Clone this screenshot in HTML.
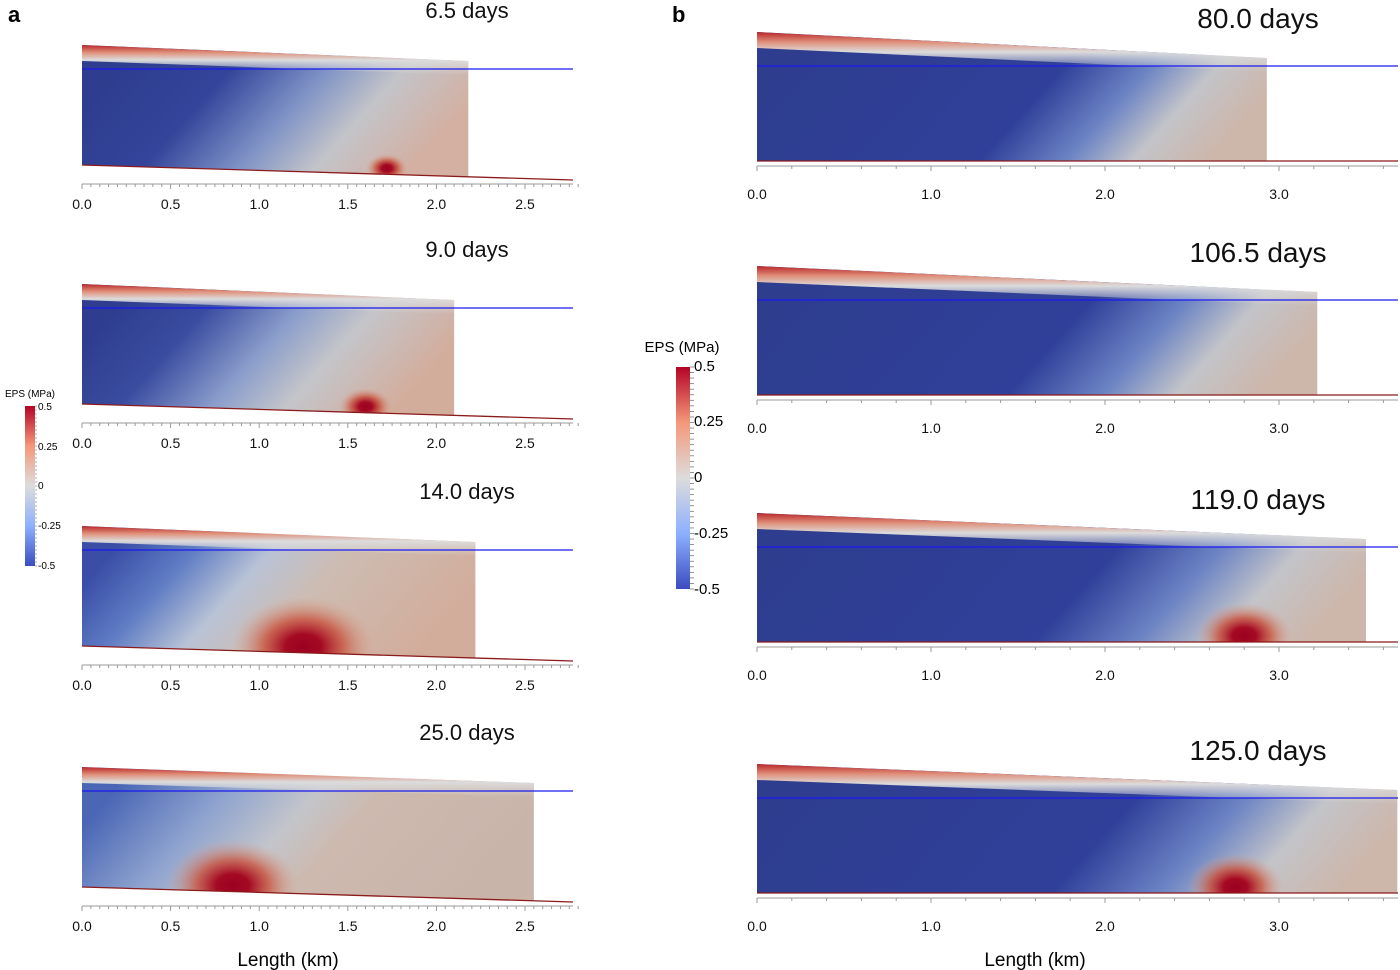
<!DOCTYPE html>
<html><head><meta charset="utf-8">
<style>
html,body{margin:0;padding:0;background:#fff;}
svg{display:block;font-family:"Liberation Sans",sans-serif;}
</style></head>
<body>
<svg id="fig" width="1400" height="970" viewBox="0 0 1400 970" xmlns="http://www.w3.org/2000/svg">
<defs>
<linearGradient id="cbar" x1="0" y1="1" x2="0" y2="0">
<stop offset="0" stop-color="#3b4cc0"/><stop offset="0.25" stop-color="#8db0fe"/><stop offset="0.5" stop-color="#dddcdc"/><stop offset="0.75" stop-color="#f4987a"/><stop offset="1" stop-color="#b40426"/>
</linearGradient>
<radialGradient id="blob">
<stop offset="0" stop-color="#9b0020"/><stop offset="0.25" stop-color="#a50a24"/><stop offset="0.55" stop-color="#c8533e" stop-opacity="0.8"/><stop offset="1" stop-color="#d9a690" stop-opacity="0"/>
</radialGradient>
<linearGradient id="topband" x1="0" y1="0" x2="0" y2="1">
<stop offset="0" stop-color="#b8262a"/><stop offset="0.25" stop-color="#e0907a"/><stop offset="0.5" stop-color="#dcdcdc"/><stop offset="1" stop-color="#dcdcdc" stop-opacity="0"/>
</linearGradient>
</defs>
<g id="panels"></g>
<text x="8" y="22" font-size="22" font-weight="bold">a</text>
<text x="672" y="22" font-size="22" font-weight="bold">b</text>
<text x="288" y="966" font-size="19" text-anchor="middle">Length (km)</text>
<text x="1035" y="966" font-size="19" text-anchor="middle">Length (km)</text>
<g>
<rect x="25" y="406" width="10" height="160" fill="url(#cbar)"/>
<text x="30" y="397" font-size="10" text-anchor="middle">EPS (MPa)</text>
<text x="38" y="410" font-size="10">0.5</text>
<text x="38" y="450" font-size="10">0.25</text>
<text x="38" y="489" font-size="10">0</text>
<text x="38" y="529" font-size="10">-0.25</text>
<text x="38" y="569" font-size="10">-0.5</text>
</g>
<g>
<rect x="676" y="367" width="14" height="222" fill="url(#cbar)"/>
<text x="682" y="352" font-size="15" text-anchor="middle">EPS (MPa)</text>
<text x="694" y="371" font-size="15">0.5</text>
<text x="694" y="426" font-size="15">0.25</text>
<text x="694" y="482" font-size="15">0</text>
<text x="694" y="538" font-size="15">-0.25</text>
<text x="694" y="594" font-size="15">-0.5</text>
</g>
<g id="cbticks"></g>
</svg>
<script>
// data
const daysA = ["6.5 days","9.0 days","14.0 days","25.0 days"];
const frontA = [2.18, 2.10, 2.22, 2.55];
const blobA = [1.72, 1.60, 1.25, 0.85];
const blobSizeA = [0.35, 0.45, 1.2, 1.1];
const ticksA = ["0.0","0.5","1.0","1.5","2.0","2.5"];
const daysB = ["80.0 days","106.5 days","119.0 days","125.0 days"];
const frontB = [2.93, 3.22, 3.50, 3.68];
const blobB = [null, null, 2.80, 2.75];
const blobSizeB = [0, 0, 0.8, 0.8];
const ticksB = ["0.0","1.0","2.0","3.0"];

const NS="http://www.w3.org/2000/svg";
const root=document.getElementById('panels');
function mk(tag,attrs,parent){const e=document.createElementNS(NS,tag);for(const k in attrs)e.setAttribute(k,attrs[k]);(parent||root).appendChild(e);return e;}

const styleA=[
 [[0,'#2e3d8e'],[0.3,'#33449a'],[0.55,'#7e92c6'],[0.75,'#c3c4c9'],[1,'#d3b0a2']],
 [[0,'#2e3d8e'],[0.25,'#3a4ca0'],[0.5,'#8a9dcb'],[0.7,'#c4c5ca'],[1,'#d3ad9c']],
 [[0,'#3a4ea6'],[0.2,'#5f7cc4'],[0.4,'#b9c3d6'],[0.6,'#cdbcb2'],[1,'#d2ad9c']],
 [[0,'#4a66b5'],[0.25,'#8ea3cf'],[0.45,'#c3c5cb'],[0.6,'#cdb9ae'],[1,'#c9b4aa']]];
const styleB=[[0,'#2e3d8e'],[0.55,'#30409a'],[0.72,'#6c84c4'],[0.85,'#c3c4c9'],[1,'#cdb6aa']];

const colA={x0:82,pxkm:177.2,xmax:573,top0:45,water:69,bot0:165,botDrop:15,axisY:184,labY:209,titleY:18,titleX:467,tsize:22,lsize:14,minor:0.05,major:0.5,offs:[0,239,481,722],span:2.8};
const colB={x0:757,pxkm:174,xmax:1398,top0:32,water:66,bot0:161,botDrop:0,axisY:166,labY:199,titleY:28,titleX:1258,tsize:28,lsize:14,minor:0.2,major:1.0,offs:[0,234,481,732],span:3.68};

function panel(c,i,day,front,blobKm,bsz,ticks,pid,stops){
  const g=mk('g',{});
  const dy=c.offs[i];
  const X=km=>c.x0+km*c.pxkm;
  const xf=X(front);
  const topL=c.top0+dy, topR=c.water+dy-8;
  const botAt=km=>c.bot0+dy+c.botDrop*(km/2.77);
  const gid='body'+pid;
  const L=xf-c.x0, k=0.9, a=1/(1+k*k);
  const ym=(topL+botAt(0))/2;
  const gr=mk('linearGradient',{id:gid,gradientUnits:'userSpaceOnUse',x1:c.x0,y1:ym,x2:c.x0+L*a,y2:ym+L*a*k},g);
  stops.forEach(s=>mk('stop',{offset:s[0],'stop-color':s[1]},gr));
  const poly=`${c.x0},${topL} ${xf},${topR} ${xf},${botAt(front)} ${c.x0},${botAt(0)}`;
  const cp=mk('clipPath',{id:'cp'+pid},g); mk('polygon',{points:poly},cp);
  mk('polygon',{points:poly,fill:'url(#'+gid+')',},g);
  const cg=mk('g',{'clip-path':'url(#cp'+pid+')'},g);
  mk('polygon',{points:`${c.x0},${topL} ${xf},${topR} ${xf},${topR+14} ${c.x0},${topL+16}`,fill:'url(#topband)',},cg);
  if(blobKm!==null){
    const e=mk('ellipse',{cx:X(blobKm),cy:botAt(blobKm)-6,rx:60*bsz,ry:42*bsz,fill:'url(#blob)'},cg);
    
    
  }
  mk('line',{x1:c.x0,y1:c.water+dy,x2:c.xmax,y2:c.water+dy,stroke:'#1a1aee','stroke-width':1.3,},g);
  mk('line',{x1:c.x0,y1:botAt(0),x2:c.xmax,y2:botAt((c.xmax-c.x0)/c.pxkm),stroke:'#8b1a1a','stroke-width':1.3,},g);
  const ay=c.axisY+dy;
  mk('line',{x1:c.x0,y1:ay,x2:c.xmax,y2:ay,stroke:'#999','stroke-width':1,},g);
  const nT=Math.floor(c.span/c.minor+1e-6);
  for(let j=0;j<=nT;j++){const km=j*c.minor;const maj=Math.abs(km/c.major-Math.round(km/c.major))<1e-6;
    mk('line',{x1:X(km),y1:ay,x2:X(km),y2:ay+(maj?5:3),stroke:'#999','stroke-width':1},g);}
  ticks.forEach(t=>{const tx=mk('text',{x:X(parseFloat(t)),y:c.labY+dy,'font-size':c.lsize,'text-anchor':'middle',fill:'#111'},g);tx.textContent=t;
    });
  const tt=mk('text',{x:c.titleX,y:c.titleY+dy,'font-size':c.tsize,'text-anchor':'middle',fill:'#111'},g);
  tt.textContent=day;
  
  
}
for(let i=0;i<4;i++){panel(colA,i,daysA[i],frontA[i],blobA[i],blobSizeA[i],ticksA,'a'+(i+1),styleA[i]);}
for(let i=0;i<4;i++){panel(colB,i,daysB[i],frontB[i],blobB[i],blobSizeB[i],ticksB,'b'+(i+1),styleB);}
const cb=document.getElementById('cbticks');
for(let j=0;j<=40;j++){
  mk('line',{x1:35,x2:37,y1:406+j*4,y2:406+j*4,stroke:'#777','stroke-width':0.6},cb);
  mk('line',{x1:690,x2:694,y1:367+j*5.55,y2:367+j*5.55,stroke:'#777','stroke-width':0.8},cb);
}
</script>
</body></html>
